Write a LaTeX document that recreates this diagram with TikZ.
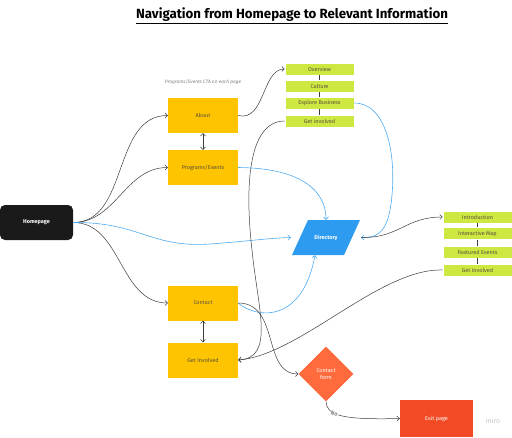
\documentclass[tikz,border=0pt]{standalone}
\usepackage{fontspec}
\setmainfont{Fira Sans}
\usetikzlibrary{arrows.meta, shapes.geometric}
\definecolor{pageyellow}{HTML}{FEC400}
\definecolor{subgreen}{HTML}{CEE741}
\definecolor{dirblue}{HTML}{2D9BF0}
\definecolor{lineblue}{HTML}{4DABF2}
\definecolor{formorange}{HTML}{FF6B3D}
\definecolor{exitred}{HTML}{F24A25}
\definecolor{homeblack}{HTML}{1A1A1A}
\definecolor{boxtext}{HTML}{5A5040}
\definecolor{linegray}{HTML}{3C3C3C}
\begin{document}
\begin{tikzpicture}
[
    x=1pt, y=-1pt,
    page/.style={fill=pageyellow, minimum width=70pt, minimum height=35pt, inner sep=0pt, text=boxtext, font=\fontsize{5.5}{6.5}\selectfont},
    sub/.style={fill=subgreen, draw=white, line width=0.6pt, minimum width=69pt, minimum height=12pt, inner sep=0pt, text=boxtext, font=\fontsize{5.5}{6.5}\selectfont},
    slanted/.style={fill=white, minimum width=70pt, minimum height=35pt, inner sep=0pt,
        path picture={\fill [dirblue] ([xshift=1pt]path picture bounding box.south west) -- ([xshift=17pt]path picture bounding box.north west) -- ([xshift=-1pt]path picture bounding box.north east) -- ([xshift=-17pt]path picture bounding box.south east) -- cycle;}},
    link/.style={draw=linegray, line width=0.5pt, -{Straight Barb[length=2.5pt, width=5pt]}},
    bluelink/.style={link, draw=lineblue, line width=0.6pt},
    twoway/.style={draw=linegray, line width=0.5pt, {Straight Barb[length=2.5pt, width=5pt]}-{Straight Barb[length=2.5pt, width=5pt]}}
]
    \useasboundingbox (0,0) rectangle (512,437);

    \node (title) at (292,16) {\fontsize{13.3}{15}\selectfont\bfseries\underline{Navigation from Homepage to Relevant Information}};
    \node (cta) at (203,82) [text=gray, font=\fontsize{4.8}{5.5}\selectfont\itshape] {Programs/Events CTA on each page};

    \node (home) at (36.5,222.5) [fill=homeblack, rounded corners=5pt, minimum width=73pt, minimum height=35pt, inner sep=0pt, text=white, font=\fontsize{5.5}{6.5}\selectfont\bfseries] {Homepage};

    \node (about) at (203,115.5) [page] {About};
    \node (progs) at (203,167.5) [page] {Programs/Events};
    \node (contact) at (203,303) [page] {Contact};
    \node (getinv) at (203,360) [page] {Get Involved};

    \node (overview) at (319.5,69) [sub] {Overview};
    \node (culture) at (319.5,86) [sub] {Culture};
    \node (explore) at (319.5,103) [sub] {Explore Business};
    \node (involved) at (319.5,121) [sub] {Get involved};

    \node (intro) at (477.5,217) [sub] {Introduction};
    \node (map) at (477.5,233.5) [sub] {Interactive Map};
    \node (events) at (477.5,252) [sub] {Featured Events};
    \node (getinvB) at (477.5,270) [sub] {Get Involved};

    \node (dir) at (326,237.5) [slanted, text=white, font=\fontsize{5.5}{6.5}\selectfont\bfseries] {Directory};

    \node (form) at (326,374) [diamond, aspect=1, fill=formorange, minimum size=55pt, inner sep=0pt, align=center, text=white, font=\fontsize{5.5}{7}\selectfont] {Contact\\form};
    \node (exit) at (436.5,418.5) [fill=exitred, minimum width=73pt, minimum height=37pt, inner sep=0pt, text=white, font=\fontsize{5.5}{6.5}\selectfont] {Exit page};
    \node (miro) at (493,421) [text=gray!45, font=\fontsize{7}{8}\selectfont] {miro};

    \draw [linegray, line width=0.5pt] (overview) -- (culture) -- (explore) -- (involved);
    \draw [linegray, line width=0.5pt] (intro) -- (map) -- (events) -- (getinvB);

    \draw [link] (home.east) to [out=0, in=180] (about.west);
    \draw [link] (home.east) to [out=0, in=180] (progs.west);
    \draw [link] (home.east) to [out=0, in=180] (contact.west);
    \draw [bluelink] (home.east) .. controls (140,222) and (150,248) .. (210,244) .. controls (250,241) and (270,238) .. (dir.west);

    \draw [twoway] (about.south) -- (progs.north);
    \draw [twoway] (contact.south) -- (getinv.north);

    \draw [link] (about.east) .. controls (265,122) and (262,69) .. (overview.west);
    \draw [link] (involved.west) .. controls (250,121) and (244,180) .. (252,250) .. controls (258,310) and (275,358) .. (getinv.east);
    \draw [bluelink] (explore.east) .. controls (385,103) and (396,150) .. (392,195) .. controls (389,232) and (378,238) .. (dir.east);
    \draw [bluelink] (progs.east) .. controls (300,168) and (326,190) .. (dir.north);
    \draw [bluelink] (contact.east) .. controls (255,318) and (302,325) .. ([xshift=-11pt]dir.south);
    \draw [link] (contact.east) .. controls (280,303) and (262,374) .. (form.west);
    \draw [link] (dir.east) .. controls (400,238) and (405,217) .. (intro.west);
    \draw [link] (getinvB.west) .. controls (380,268) and (300,355) .. (getinv.east);
    \draw [link] (form.south) .. controls (327,415) and (340,420) .. node [pos=0.38, rotate=-15, fill=white, inner sep=0.5pt, text=linegray, font=\fontsize{5.5}{6.5}\selectfont] {No} (exit.west);
\end{tikzpicture}
\end{document}
